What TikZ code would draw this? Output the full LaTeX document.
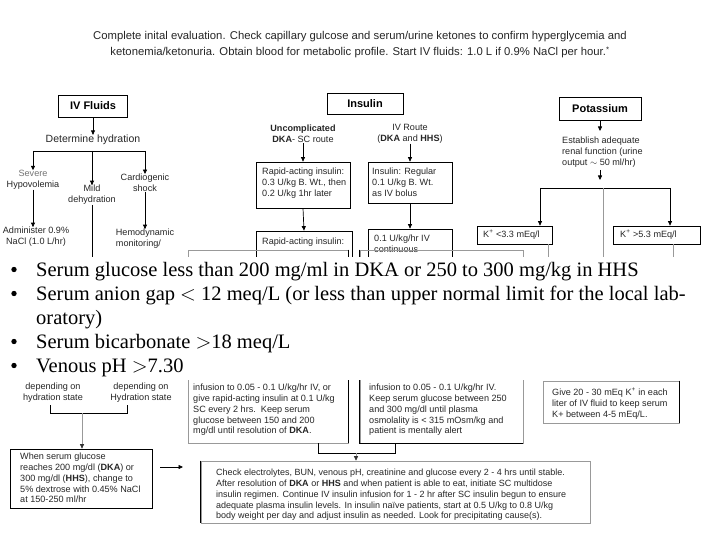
\documentclass[tikz,border=0pt]{standalone}
\usepackage{fontspec}
\setmainfont{Liberation Sans}
\newfontfamily\bulletfont{Liberation Serif}
\usetikzlibrary{arrows.meta}
\begin{document}
\begin{tikzpicture}[x=1pt,y=-1pt,
  arr/.style={-{Triangle[length=4.5pt,width=4pt]},line width=0.7pt},
  farr/.style={draw=black!40,line width=0.6pt,-{Triangle[color=black!80,length=4.5pt,width=4pt]}},
  ln/.style={line width=0.7pt},
  faint/.style={draw=black!40,line width=0.6pt},
  title/.style={draw,line width=0.8pt,inner sep=0pt,font=\bfseries\fontsize{11}{13}\selectfont},
  boxst/.style={draw,line width=0.7pt,inner sep=0pt},
  gbox/.style={draw=black!40,line width=0.6pt,inner sep=0pt},
  lbl/.style={inner sep=0pt,text=black!85,font=\fontsize{9.1}{10.8}\selectfont},
  big/.style={inner sep=0pt,text=black!85,font=\fontsize{10.5}{16}\selectfont},
  bul/.style={inner sep=0pt,anchor=base west,font=\bulletfont\fontsize{20.5}{24}\selectfont},
]
\useasboundingbox[fill=white] (0,0) rectangle (720,540);

% header
\node[big,align=center,anchor=base,font=\fontsize{11.3}{16}\selectfont] (hdr) at (360,56) {Complete inital evaluation. Check capillary gulcose and serum/urine ketones to confirm hyperglycemia and\\ketonemia/ketonuria. Obtain blood for metabolic profile. Start IV fluids: 1.0 L if 0.9\% NaCl per hour.\textsuperscript{*}};

% ---------------- IV fluids
\node[title,minimum width=69pt,minimum height=22pt] (ivf) at (93,106) {IV Fluids};
\node[big] (det) at (93,140) {Determine hydration};
\draw[arr] (ivf.south) -- (det.north);
\coordinate (hl) at (33,151);
\coordinate (hr) at (145,151);
\draw[ln] (hl) -- (hr);
\node[lbl,align=center] (sev) at (33,180) {\textcolor{black!55}{Severe}\\Hypovolemia};
\node[lbl,align=center] (mild) at (92,195) {Mild\\dehydration};
\node[lbl,align=center] (card) at (145,183) {Cardiogenic\\shock};
\draw[arr] (hl) -- (sev.north);
\draw[arr] (92,151) -- (mild.north);
\draw[arr] (hr) -- (card.north);
\node[lbl,align=center] (adm) at (36,237) {Administer 0.9\%\\NaCl (1.0 L/hr)};
\draw[arr] (sev.south) -- (adm.north -| sev.south);
\node[lbl,align=left] (hemo) at (145,239) {Hemodynamic\\monitoring/};
\draw[arr] (card.south) -- (hemo.north -| card.south);
\coordinate (mildend) at (92,262);
\draw[ln] (mild.south) -- (mildend);

% ---------------- Insulin
\node[title,minimum width=76pt,minimum height=21pt] (ins) at (365,103.5) {Insulin};
\node[lbl,align=center] (unc) at (303,134) {\textbf{Uncomplicated}\\\textbf{DKA}- SC route};
\node[lbl,align=center] (ivr) at (410,134) {IV Route\\(\textbf{DKA} and \textbf{HHS})};
\node[boxst,minimum width=94pt,minimum height=46pt] (rap) at (303,185) {};
\node[lbl,align=left,anchor=north west] (rapt) at (262,168) {Rapid-acting insulin:\\0.3 U/kg B. Wt., then\\0.2 U/kg 1hr later};
\node[boxst,minimum width=84pt,minimum height=41pt] (reg) at (410,182.5) {};
\node[lbl,align=left,anchor=north west] (regt) at (372,168) {Insulin: Regular\\0.1 U/kg B. Wt.\\as IV bolus};
\draw[arr] (unc.south) -- (rap.north);
\draw[arr] (ivr.south) -- (reg.north);
\node[boxst,minimum width=96pt,minimum height=70pt] (rap2) at (304,266) {};
\node[lbl,anchor=north west] (rap2t) at (262,238) {Rapid-acting insulin:};
\node[boxst,minimum width=84pt,minimum height=72pt] (cont) at (410,265) {};
\node[lbl,align=left,anchor=north west] (contt) at (374,235) {0.1 U/kg/hr IV\\continuous};
\draw[arr] (rap.south) -- (rap2.north);
\draw[arr] (reg.south) -- (cont.north);

% ---------------- Potassium
\node[title,minimum width=82pt,minimum height=23pt] (pot) at (600,108.5) {Potassium};
\node[lbl,align=left,anchor=north west,font=\fontsize{9.1}{11}\selectfont] (est) at (562,137) {Establish adequate\\renal function (urine\\output $\sim$ 50 ml/hr)};
\draw[arr] (pot.south) -- (600,131);
\draw[arr] (600,170) -- (600,180);
\coordinate (pl) at (540,188);
\coordinate (pr) at (670,188);
\draw[ln] (pl) -- (pr);
\node[boxst,minimum width=75pt,minimum height=18pt] (klo) at (514.5,235) {};
\node[lbl,anchor=west] (klot) at (483,235) {K\textsuperscript{+} <3.3 mEq/l};
\node[boxst,minimum width=87pt,minimum height=18pt] (khi) at (656.5,235) {};
\node[lbl,anchor=west] (khit) at (620,235) {K\textsuperscript{+} >5.3 mEq/l};
\draw[arr] (pl) -- (pl |- klo.north);
\draw[arr] (pr) -- (pr |- khi.north);
\draw[faint] (603,188) -- (603,262);
\draw[faint] (548,244) -- (548,262);
\draw[faint] (673,244) -- (673,262);

% ---------------- lower part
\node[lbl,align=center] (dep1) at (53,392.5) {depending on\\hydration state};
\node[lbl,align=center] (dep2) at (141,392.5) {depending on\\Hydration state};
\draw[ln] (50,405) -- (50,413) -- (127,413) -- (127,405);
\coordinate (brl) at (82,413);
\node[boxst,minimum width=142pt,minimum height=59pt] (when) at (81,478.5) {};
\node[lbl,align=left,anchor=north west] (whent) at (20,453) {When serum glucose\\reaches 200 mg/dl (\textbf{DKA}) or\\300 mg/dl (\textbf{HHS}), change to\\5\% dextrose with 0.45\% NaCl\\at 150-250 ml/hr};
\draw[farr] (brl) -- (brl |- when.north);

\node[gbox,minimum width=160pt,minimum height=193pt] (ml) at (268,346.5) {};
\draw[line width=0.9pt] (ml.north east) -- (ml.south east);
\node[lbl,align=left,anchor=north west] (mlt) at (193,384) {infusion to 0.05 - 0.1 U/kg/hr IV, or\\give rapid-acting insulin at 0.1 U/kg\\SC every 2 hrs.\ \ Keep serum\\glucose between 150 and 200\\mg/dl until resolution of \textbf{DKA}.};
\node[gbox,minimum width=163pt,minimum height=193pt] (mr) at (441.5,346.5) {};
\draw[line width=0.9pt] (mr.north west) -- (mr.south west) -- (mr.south east);
\node[lbl,align=left,anchor=north west] (mrt) at (369,384) {infusion to 0.05 - 0.1 U/kg/hr IV.\\Keep serum glucose between 250\\and 300 mg/dl until plasma\\osmolality is < 315 mOsm/kg and\\patient is mentally alert};

\draw[ln] (318,443) -- (318,453) -- (395,453) -- (395,443);
\coordinate (brm) at (356,453);

\node[gbox,minimum width=389pt,minimum height=62pt] (chk) at (395.5,492) {};
\draw[line width=0.9pt] (chk.north west) -- (chk.south west);
\node[lbl,align=left,anchor=north west,font=\fontsize{9}{10.8}\selectfont] (chkt) at (216,469) {Check electrolytes, BUN, venous pH, creatinine and glucose every 2 - 4 hrs until stable.\\After resolution of \textbf{DKA} or \textbf{HHS} and when patient is able to eat, initiate SC multidose\\insulin regimen. Continue IV insulin infusion for 1 - 2 hr after SC insulin begun to ensure\\adequate plasma insulin levels. In insulin na\"ive patients, start at 0.5 U/kg to 0.8 U/kg\\body weight per day and adjust insulin as needed. Look for precipitating cause(s).};
\draw[farr] (brm) -- (brm |- chk.north);
\coordinate (wa) at (160,467);
\coordinate (wb) at (183,467);
\draw[arr] (wa) -- (wb);

\node[gbox,minimum width=136pt,minimum height=42pt] (give) at (611,402) {};
\draw[line width=0.9pt] (give.north east) -- (give.south east);
\node[lbl,align=left,anchor=north west] (givet) at (552,388) {Give 20 - 30 mEq K\textsuperscript{+} in each\\liter of IV fluid to keep serum\\K+ between 4-5 mEq/L.};

% ---------------- overlay with bullets
\fill[white] (0,257) rectangle (720,380);
\foreach \yy in {276,300,348,372} {\fill (14,\yy-6.5) circle (2.7pt);}
\node[bul] (b1) at (36,276) {Serum glucose less than 200 mg/ml in DKA or 250 to 300 mg/kg in HHS};
\node[bul] (b2) at (36,300) {Serum anion gap $<$ 12 meq/L (or less than upper normal limit for the local lab-};
\node[bul] (b2b) at (36,324) {oratory)};
\node[bul] (b3) at (36,348) {Serum bicarbonate $>$18 meq/L};
\node[bul] (b4) at (36,372) {Venous pH $>$7.30};
\end{tikzpicture}
\end{document}
